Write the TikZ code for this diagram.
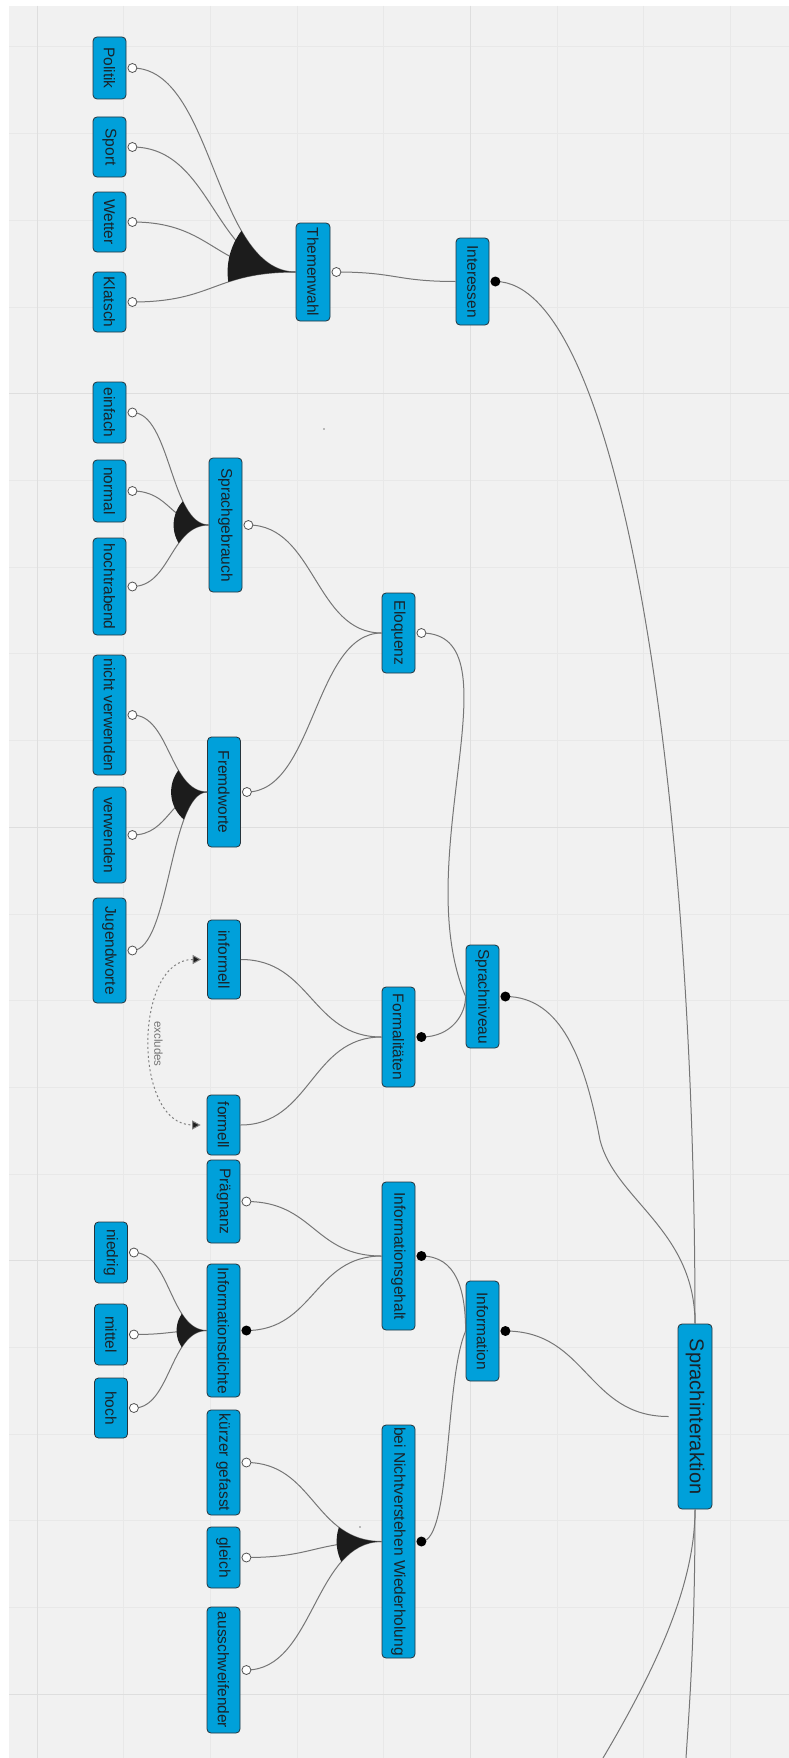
\documentclass[tikz,border=0pt]{standalone}
\usepackage{fontspec}
\setmainfont{Liberation Sans}
\usetikzlibrary{calc,arrows.meta}
\definecolor{bgc}{RGB}{241,241,241}
\definecolor{gridminor}{RGB}{232,232,232}
\definecolor{gridmajor}{RGB}{222,222,222}
\definecolor{boxblue}{RGB}{0,160,218}
\definecolor{boxline}{RGB}{38,52,60}
\definecolor{txt}{RGB}{25,35,42}
\definecolor{edgec}{RGB}{118,118,118}
\definecolor{fanc}{RGB}{28,28,28}
\tikzset{
  feat/.style={draw=boxline, line width=0.8pt, fill=boxblue, rounded corners=4pt,
    rotate=-90, minimum height=33pt, inner sep=0pt, text=txt,
    font=\fontsize{15.5}{18}\selectfont},
  lnk/.style={draw=edgec, line width=1pt},
  optmark/.style={draw=edgec!70!black, fill=white, line width=0.8pt},
  manmark/.style={fill=black},
  excl/.style={draw=gray, line width=1pt, dash pattern=on 2pt off 2.5pt,
    {Triangle[length=8.5pt,width=9pt,fill=fanc]}-{Triangle[length=8.5pt,width=9pt,fill=fanc]}},
  gmin/.style={draw=gridminor, line width=1pt},
  gmaj/.style={draw=gridmajor, line width=1pt}
}
\newcommand\dlink[2]{\draw[lnk] let \p1=(#1), \p2=(#2) in (\p1) .. controls ({(\x1+\x2)/2},\y1) and ({(\x1+\x2)/2},\y2) .. (\p2);}
\newcommand\fan[4]{\begin{scope}\clip (#1) circle (#4pt);
\fill[fanc] let \p1=(#2), \p2=(#1), \p3=(#3) in (\p1) .. controls ({(\x1+\x2)/2},\y1) and ({(\x1+\x2)/2},\y2) .. (\p2) .. controls ({(\x3+\x2)/2},\y2) and ({(\x3+\x2)/2},\y3) .. (\p3) -- cycle;\end{scope}}
\begin{document}
\begin{tikzpicture}[x=1pt,y=-1pt]
\useasboundingbox (0,0) rectangle (789,1758);
\fill[white] (0,0) rectangle (789,1758);
\fill[bgc] (9,6) rectangle (789,1758);
% grid
\foreach \i in {0,...,8} {\draw[gmin] ({37+86.7*\i},6) -- ({37+86.7*\i},1758);}
\foreach \j in {0,...,19} {\draw[gmin] (9,{47+86.7*\j}) -- (789,{47+86.7*\j});}
\foreach \i in {0,5} {\draw[gmaj] ({37+86.7*\i},6) -- ({37+86.7*\i},1758);}
\foreach \j in {4,9,14,19} {\draw[gmaj] (9,{47+86.7*\j}) -- (789,{47+86.7*\j});}

% leaves
\node[feat, minimum width=62pt] (pol) at (109.5,68) {Politik};
\node[feat, minimum width=60pt] (spo) at (109.5,147) {Sport};
\node[feat, minimum width=60pt] (wet) at (109.5,222) {Wetter};
\node[feat, minimum width=60pt] (kla) at (109.5,302) {Klatsch};
\node[feat, minimum width=61pt] (einf) at (109.5,412.5) {einfach};
\node[feat, minimum width=62pt] (norm) at (109.5,491) {normal};
\node[feat, minimum width=97pt] (hoch) at (109.5,586.5) {hochtrabend};
\node[feat, minimum width=120pt] (nver) at (109.5,715) {nicht verwenden};
\node[feat, minimum width=96pt] (verw) at (109.5,835) {verwenden};
\node[feat, minimum width=105pt] (jug) at (109.5,950.5) {Jugendworte};
\node[feat, minimum width=61pt] (nied) at (111,1252.5) {niedrig};
\node[feat, minimum width=61pt] (mitt) at (111,1334.5) {mittel};
\node[feat, minimum width=60pt] (hochz) at (111,1408) {hoch};
% level 2
\node[feat, minimum width=98pt, minimum height=34pt] (thw) at (313,272) {Themenwahl};
\node[feat, minimum width=134pt] (sprg) at (225.5,525) {Sprachgebrauch};
\node[feat, minimum width=110pt] (frem) at (224,792) {Fremdworte};
\node[feat, minimum width=79pt] (inf) at (224,959.5) {informell};
\node[feat, minimum width=60pt] (form) at (223.5,1125) {formell};
\node[feat, minimum width=83pt] (praeg) at (223.5,1201.5) {Prägnanz};
\node[feat, minimum width=133pt] (idich) at (223.5,1330.5) {Informationsdichte};
\node[feat, minimum width=105pt] (kuerz) at (223.5,1462.5) {kürzer gefasst};
\node[feat, minimum width=61pt] (gleich) at (223.5,1557.5) {gleich};
\node[feat, minimum width=126pt] (aus) at (223.5,1670) {ausschweifender};
% level 3
\node[feat, minimum width=80pt] (elo) at (398.5,633) {Eloquenz};
\node[feat, minimum width=100pt] (formal) at (398.5,1037) {Formalitäten};
\node[feat, minimum width=148pt] (igeh) at (398.5,1256) {Informationsgehalt};
\node[feat, minimum width=233pt] (bei) at (398.5,1541.5) {bei Nichtverstehen Wiederholung};
% level 4
\node[feat, minimum width=87pt] (inter) at (472.5,281.5) {Interessen};
\node[feat, minimum width=103pt] (sniv) at (482.5,996.5) {Sprachniveau};
\node[feat, minimum width=100pt] (info) at (482.5,1331) {Information};
% root
\node[feat, minimum width=185pt, minimum height=34pt, font=\fontsize{20}{24}\selectfont] (root) at (695,1416.5) {Sprachinteraktion};

% connector points
\foreach \nm in {pol,spo,wet,kla,thw,einf,norm,hoch,sprg,elo,nver,verw,jug,frem,praeg,nied,mitt,hochz,kuerz,gleich,aus,inter,sniv,formal,idich,igeh,info,bei}
  {\coordinate (\nm-c) at ([xshift=6pt]\nm.north);}
\coordinate (rootin) at ([xshift=-9pt]root.south);
\coordinate (out1) at (686,1758);
\coordinate (out2) at (603,1758);
\coordinate (bend) at (600,1140);

% edges
\dlink{pol-c}{thw.south}
\dlink{spo-c}{thw.south}
\dlink{wet-c}{thw.south}
\dlink{kla-c}{thw.south}
\dlink{thw-c}{inter.south}
\dlink{einf-c}{sprg.south}
\dlink{norm-c}{sprg.south}
\dlink{hoch-c}{sprg.south}
\dlink{nver-c}{frem.south}
\dlink{verw-c}{frem.south}
\dlink{jug-c}{frem.south}
\dlink{sprg-c}{elo.south}
\dlink{frem-c}{elo.south}
\dlink{inf.north}{formal.south}
\dlink{form.north}{formal.south}
\dlink{praeg-c}{igeh.south}
\dlink{idich-c}{igeh.south}
\dlink{nied-c}{idich.south}
\dlink{mitt-c}{idich.south}
\dlink{hochz-c}{idich.south}
\dlink{kuerz-c}{bei.south}
\dlink{gleich-c}{bei.south}
\dlink{aus-c}{bei.south}
\dlink{info-c}{rootin}
\draw[lnk] (inter-c) .. controls +(120,0) and +(0,-564) .. (root.west);
\draw[lnk] (sniv-c) .. controls +(56,0) and +(-15,-80) .. (bend) .. controls +(15,60) and +(0,-94) .. (root.west);
\draw[lnk] (elo-c) .. controls +(99,0) and +(-58,-137) .. (sniv.south);
\draw[lnk] (formal-c) .. controls +(30,0) and +(0,18) .. (sniv.south);
\draw[lnk] (igeh-c) .. controls +(35,0) and +(0,-41) .. (info.south);
\draw[lnk] (bei-c) .. controls +(30,0) and +(-21,49) .. (info.south);
\draw[lnk] (root.east) .. controls +(0,120) and +(4,-60) .. (out1);
\draw[lnk] (root.east) .. controls +(0,71) and +(58,-98) .. (out2);

% or-group fans
\fan{thw.south}{pol-c}{kla-c}{68}
\fan{sprg.south}{einf-c}{hoch-c}{35}
\fan{frem.south}{nver-c}{jug-c}{36}
\fan{idich.south}{nied-c}{hochz-c}{30}
\fan{bei.south}{kuerz-c}{aus-c}{45}

% excludes constraint
\draw[excl] ([xshift=-6pt]inf.south) .. controls +(-68,0) and +(-68,0) .. ([xshift=-6pt]form.south);
\node[rotate=-90, inner sep=0pt, text=gray!90!black, font=\fontsize{11.5}{13}\selectfont] (exlabel) at (158.5,1044) {excludes};

% markers
\foreach \nm in {pol,spo,wet,kla,thw,einf,norm,hoch,sprg,elo,nver,verw,jug,frem,praeg,nied,mitt,hochz,kuerz,gleich,aus}
  {\draw[optmark] (\nm-c) circle (4.5pt);}
\foreach \nm in {inter,sniv,formal,idich,igeh,info,bei}
  {\fill[manmark] (\nm-c) circle (5pt);}
% stray specks
\fill[gray] (324,429) circle (0.8pt);
\fill[gray] (360,1527) circle (0.8pt);
\end{tikzpicture}
\end{document}
